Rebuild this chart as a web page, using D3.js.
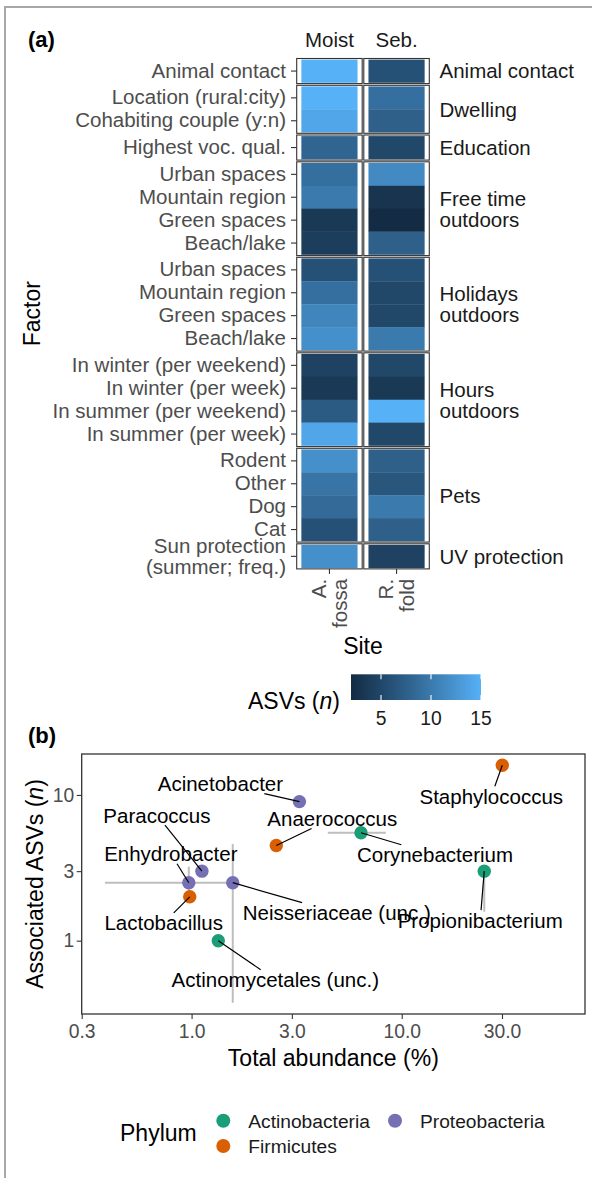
<!DOCTYPE html>
<html><head><meta charset="utf-8">
<script src="https://cdn.jsdelivr.net/npm/d3@7"></script>
<style>
body{margin:0;background:#fff}
svg{display:block}
text{font-family:"Liberation Sans",Arial,Helvetica,sans-serif}
</style>
</head><body>
<svg id="c" width="592" height="1178"></svg>
<script>
// ---------------- DATA ----------------
// (a) heatmap
const groups = ["Animal contact","Dwelling","Education","Free time\noutdoors","Holidays\noutdoors","Hours\noutdoors","Pets","UV protection"];
const factors = ["Animal contact","Location (rural:city)","Cohabiting couple (y:n)","Highest voc. qual.",
  "Urban spaces","Mountain region","Green spaces","Beach/lake",
  "Urban spaces","Mountain region","Green spaces","Beach/lake",
  "In winter (per weekend)","In winter (per week)","In summer (per weekend)","In summer (per week)",
  "Rodent","Other","Dog","Cat","Sun protection\n(summer; freq.)"];
const factorGroup = [0,1,1,2,3,3,3,3,4,4,4,4,5,5,5,5,6,6,6,6,7];
const siteHeaders = ["Moist","Seb."];
const sites = ["A.\nfossa","R.\nfold"];
const moistASVs = [15,15,14,8, 9,10,3.5,4, 6,9,11,12, 4.5,3.5,7,14, 12,9.5,8.5,6, 12];
const sebASVs   = [6,9,7.5,5, 11.5,3,2,7.5, 6,5,5,10, 5,3.5,15,5, 7.5,6.5,10,7.5, 4.5];
const colorTicks = [5,10,15];

// (b) scatter
const genera  = ["Staphylococcus","Acinetobacter","Anaerococcus","Corynebacterium","Paracoccus",
                 "Propionibacterium","Enhydrobacter","Neisseriaceae (unc.)","Lactobacillus","Actinomycetales (unc.)"];
const phylum  = ["Firmicutes","Proteobacteria","Firmicutes","Actinobacteria","Proteobacteria",
                 "Actinobacteria","Proteobacteria","Proteobacteria","Firmicutes","Actinobacteria"];
const abundance = [30.1,3.26,2.53,6.4,1.12,24.7,0.97,1.57,0.98,1.34];
const asvs      = [16,9,4.5,5.5,3,3,2.5,2.5,2,1];
const abundLo = [null,null,null,4.45,null,null,0.387,null,null,null];
const abundHi = [null,null,null,8.4,null,null,1.57,null,null,null];
const asvLo   = [null,null,null,null,null,1.58,2.0,0.375,null,null];
const asvHi   = [null,null,null,null,null,3.2,3.22,4.6,null,null];
const phyla = ["Actinobacteria","Firmicutes","Proteobacteria"];
const phylaColors = ["#1B9E77","#D95F02","#7570B3"];
const xTicks = [0.3,1,3,10,30];
const yTicks = [1,3,10];
// label placement (repel offsets, px from point)
const repelDx = [-11,-79,56,74,-45,-4,-18,104,-26,57];
const repelDy = [31,-18,-27,22,-56,49,-29,30,26,39];

// ---------------- DRAW ----------------
const svg = d3.select("#c");
const FONT = '"Liberation Sans",Arial,Helvetica,sans-serif';

// figure frame
svg.append("path").attr("d","M5,1178V7H592").attr("fill","none")
   .attr("stroke","#A8A8A8").attr("stroke-width",2);

// panel labels
svg.append("text").attr("x",28).attr("y",47).attr("font-weight","bold").attr("font-size",22).attr("fill","#000").text("(a)");
svg.append("text").attr("x",28).attr("y",743).attr("font-weight","bold").attr("font-size",22).attr("fill","#000").text("(b)");

// color scale
const cmin = d3.min(moistASVs.concat(sebASVs)), cmax = d3.max(moistASVs.concat(sebASVs));
const color = d3.scaleLinear().domain([cmin,cmax]).range(["#132B43","#56B1F7"]).interpolate(d3.interpolateLab);

// heatmap layout
const itemH = 22.9, pad = 1.1, gap = 1.7, top0 = 58.5;
const colX = [[296.7,362.2],[363.8,429.3]];
let yy = top0;
const panels = groups.map((g,gi)=>{
  const idx = d3.range(factors.length).filter(i=>factorGroup[i]===gi);
  const h = idx.length*itemH + 2*pad;
  const p = {gi, idx, y0:yy, y1:yy+h};
  yy += h + gap;
  return p;
});
const xBands = colX.map((r,c)=>d3.scaleBand().domain([sites[c]]).range(r).paddingInner(0).paddingOuter(0.083));
const vals = [moistASVs, sebASVs];

function multiline(sel, str, x, cy, lh){
  const lines = str.split("\n");
  const n = lines.length;
  lines.forEach((l,k)=>{
    sel.append("tspan").attr("x",x).attr("y",cy+(k-(n-1)/2)*lh).attr("dy","0.36em").text(l);
  });
}

const hm = svg.append("g");
panels.forEach(p=>{
  const yBand = d3.scaleBand().domain(p.idx).range([p.y0+pad,p.y1-pad]).padding(0);
  p.yBand = yBand;
  colX.forEach((r,c)=>{
    const xb = xBands[c];
    hm.selectAll(null).data(p.idx).enter().append("rect")
      .attr("x",xb(sites[c])).attr("width",xb.bandwidth())
      .attr("y",i=>yBand(i)).attr("height",yBand.bandwidth()+0.3)
      .attr("fill",i=>color(vals[c][i]));
    hm.append("rect").attr("x",r[0]).attr("y",p.y0).attr("width",r[1]-r[0]).attr("height",p.y1-p.y0)
      .attr("fill","none").attr("stroke","#333").attr("stroke-width",1.1);
  });
  // left axis
  const ax = hm.append("g").attr("transform",`translate(${colX[0][0]},0)`)
    .call(d3.axisLeft(yBand).tickSize(5.7).tickPadding(5).tickFormat(i=>factors[i]));
  ax.select(".domain").remove();
  ax.selectAll(".tick line").attr("stroke","#333").attr("stroke-width",1.1);
  ax.selectAll(".tick text").attr("font-family",FONT).attr("font-size",20.5).attr("fill","#4D4D4D")
    .each(function(i){
      const s = factors[i];
      if(s.includes("\n")){
        const t = d3.select(this); const x = t.attr("x"); t.text(null).attr("dy",null);
        multiline(t,s,x,0,21);
      }
    });
  // strip label right
  const st = hm.append("text").attr("font-size",20.5).attr("fill","#1A1A1A");
  multiline(st, groups[p.gi], 439.5, (p.y0+p.y1)/2, 21);
});

// column headers
siteHeaders.forEach((h,c)=>{
  const xb = xBands[c];
  hm.append("text").attr("x",xb(sites[c])+xb.bandwidth()/2).attr("y",46.7)
    .attr("text-anchor","middle").attr("font-size",20.5).attr("fill","#1A1A1A").text(h);
});

// bottom axis of heatmap
const lastP = panels[panels.length-1];
colX.forEach((r,c)=>{
  const xb = xBands[c];
  const ax = hm.append("g").attr("transform",`translate(0,${lastP.y1})`)
    .call(d3.axisBottom(xb).tickSize(5).tickFormat(""));
  ax.select(".domain").remove();
  ax.selectAll(".tick line").attr("stroke","#333").attr("stroke-width",1.1);
  const cx = xb(sites[c])+xb.bandwidth()/2;
  const t = hm.append("text").attr("transform",`translate(${cx},${lastP.y1+10}) rotate(-90)`)
    .attr("text-anchor","end").attr("font-size",20.5).attr("fill","#4D4D4D");
  multiline(t, sites[c], 0, 0, 21);
});

// axis titles (a)
svg.append("text").attr("x",363).attr("y",654).attr("text-anchor","middle").attr("font-size",23).attr("fill","#000").text("Site");
svg.append("text").attr("transform",`translate(39.5,${(top0+lastP.y1)/2}) rotate(-90)`)
   .attr("text-anchor","middle").attr("font-size",23).attr("fill","#000").text("Factor");

// colour bar legend
const lx = d3.scaleLinear().domain([cmin,cmax]).range([351,481]);
const defs = svg.append("defs");
const grad = defs.append("linearGradient").attr("id","cg").attr("x1","0%").attr("x2","100%");
d3.range(0,1.0001,0.05).forEach(t=>{
  grad.append("stop").attr("offset",(t*100)+"%").attr("stop-color",color(cmin+t*(cmax-cmin)));
});
const cbY0 = 674.3, cbY1 = 700;
svg.append("rect").attr("x",lx(cmin)).attr("y",cbY0).attr("width",lx(cmax)-lx(cmin)).attr("height",cbY1-cbY0).attr("fill","url(#cg)");
colorTicks.forEach(v=>{
  svg.append("line").attr("x1",lx(v)).attr("x2",lx(v)).attr("y1",cbY0).attr("y2",cbY0+5).attr("stroke","#fff").attr("stroke-width",1.1);
  svg.append("line").attr("x1",lx(v)).attr("x2",lx(v)).attr("y1",cbY1-5).attr("y2",cbY1).attr("stroke","#fff").attr("stroke-width",1.1);
  svg.append("text").attr("x",lx(v)).attr("y",725).attr("text-anchor","middle").attr("font-size",19.3).attr("fill","#1A1A1A").text(v);
});
const lt = svg.append("text").attr("x",340).attr("y",709).attr("text-anchor","end").attr("font-size",23).attr("fill","#000");
lt.append("tspan").text("ASVs (");
lt.append("tspan").attr("font-style","italic").text("n");
lt.append("tspan").text(")");

// ---------------- (b) scatter ----------------
const px0=81.7, px1=585, py0=754, py1=1014;
const xS = d3.scaleLog().domain([0.3,74.5]).range([px0,px1]);
const yS = d3.scaleLog().domain([0.314,19.1]).range([py1,py0]);
const pcol = d3.scaleOrdinal().domain(phyla).range(phylaColors);
const sc = svg.append("g");

sc.append("rect").attr("x",px0).attr("y",py0).attr("width",px1-px0).attr("height",py1-py0)
  .attr("fill","#fff");

// error bars
genera.forEach((g,i)=>{
  if(abundLo[i]!=null){
    sc.append("line").attr("x1",xS(abundLo[i])).attr("x2",xS(abundHi[i])).attr("y1",yS(asvs[i])).attr("y2",yS(asvs[i]))
      .attr("stroke","#BEBEBE").attr("stroke-width",2);
  }
  if(asvLo[i]!=null){
    sc.append("line").attr("x1",xS(abundance[i])).attr("x2",xS(abundance[i])).attr("y1",yS(asvLo[i])).attr("y2",yS(asvHi[i]))
      .attr("stroke","#BEBEBE").attr("stroke-width",2);
  }
});

// points
sc.selectAll("circle.pt").data(genera).enter().append("circle").attr("class","pt")
  .attr("cx",(d,i)=>xS(abundance[i])).attr("cy",(d,i)=>yS(asvs[i])).attr("r",6.7)
  .attr("fill",(d,i)=>pcol(phylum[i]));

// labels with leader segments
const segG = sc.append("g"), labG = sc.append("g");
genera.forEach((g,i)=>{
  const x = xS(abundance[i]), y = yS(asvs[i]);
  const cx = x+repelDx[i], cy = y+repelDy[i];
  const t = labG.append("text").attr("x",cx).attr("y",cy).attr("dy","0.36em").attr("text-anchor","middle")
    .attr("font-size",20.5).attr("fill","#000").text(g);
  const w = t.node().getComputedTextLength()/2 + 2, h = 10;
  // intersection of centre->point line with label box
  const dx = x-cx, dy = y-cy;
  let tt = Infinity;
  if(dx!==0) tt = Math.min(tt, w/Math.abs(dx));
  if(dy!==0) tt = Math.min(tt, h/Math.abs(dy));
  if(tt<1){
    segG.append("line").attr("x1",cx+dx*tt).attr("y1",cy+dy*tt).attr("x2",x).attr("y2",y)
      .attr("stroke","#000").attr("stroke-width",1.2);
  }
});

// border
sc.append("rect").attr("x",px0).attr("y",py0).attr("width",px1-px0).attr("height",py1-py0)
  .attr("fill","none").attr("stroke","#333").attr("stroke-width",1.3);

// axes
const xa = sc.append("g").attr("transform",`translate(0,${py1})`)
  .call(d3.axisBottom(xS).tickValues(xTicks).tickFormat(d3.format(".1f")).tickSize(5).tickPadding(5.6));
const ya = sc.append("g").attr("transform",`translate(${px0},0)`)
  .call(d3.axisLeft(yS).tickValues(yTicks).tickFormat(d3.format("d")).tickSize(5).tickPadding(2.5));
[xa,ya].forEach(a=>{
  a.select(".domain").remove();
  a.selectAll(".tick line").attr("stroke","#333").attr("stroke-width",1.1);
  a.selectAll(".tick text").attr("font-family",FONT).attr("font-size",19.3).attr("fill","#4D4D4D");
});

svg.append("text").attr("x",(px0+px1)/2).attr("y",1066).attr("text-anchor","middle").attr("font-size",23).attr("fill","#000").text("Total abundance (%)");
const yt = svg.append("text").attr("transform",`translate(43,${(py0+py1)/2}) rotate(-90)`)
   .attr("text-anchor","middle").attr("font-size",23).attr("fill","#000");
yt.append("tspan").text("Associated ASVs (");
yt.append("tspan").attr("font-style","italic").text("n");
yt.append("tspan").text(")");

// phylum legend
svg.append("text").attr("x",120).attr("y",1141).attr("font-size",23).attr("fill","#000").text("Phylum");
const keyPos = [[223.3,1120.7],[223.3,1146],[395,1120.7]];
phyla.forEach((p,k)=>{
  svg.append("circle").attr("cx",keyPos[k][0]).attr("cy",keyPos[k][1]).attr("r",7).attr("fill",pcol(p));
  svg.append("text").attr("x",keyPos[k][0]+25).attr("y",keyPos[k][1]).attr("dy","0.36em")
    .attr("font-size",19.2).attr("fill","#1A1A1A").text(p);
});
</script>
</body></html>
